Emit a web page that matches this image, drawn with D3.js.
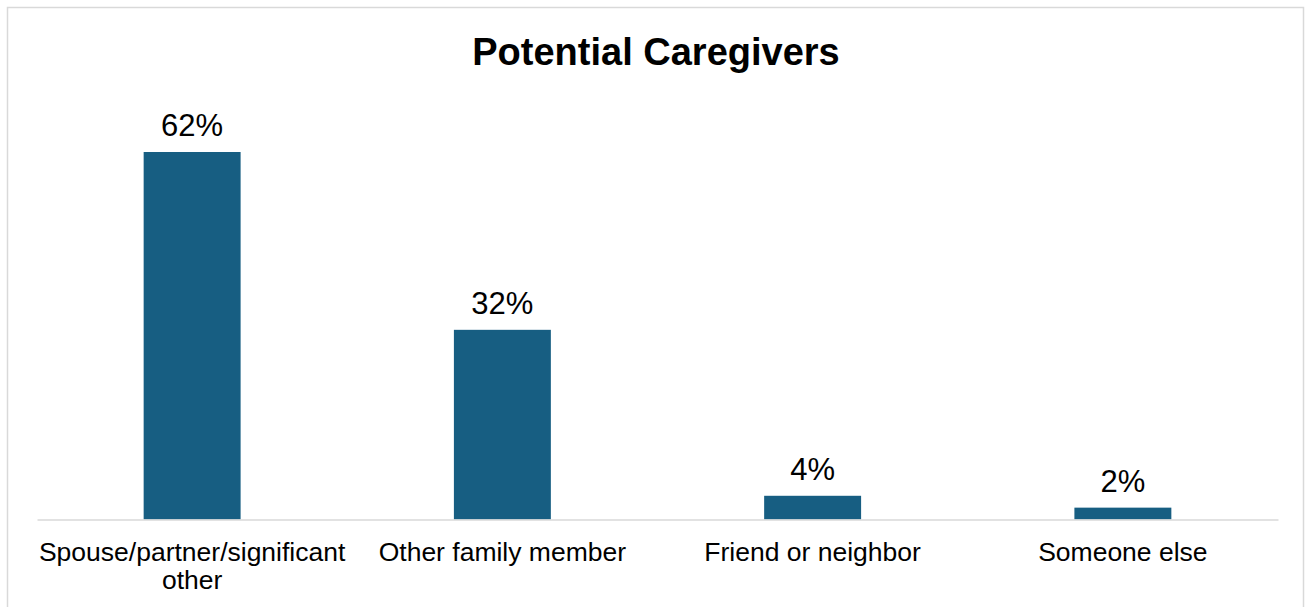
<!DOCTYPE html>
<html>
<head>
<meta charset="utf-8">
<script src="https://cdn.jsdelivr.net/npm/d3@7"></script>
<style>
  html, body { margin: 0; padding: 0; background: #fff; }
  svg { display: block; font-family: "Liberation Sans", Arial, sans-serif; }
</style>
</head>
<body>
<svg id="chart" width="1308" height="607"></svg>
<script>
// Who respondents expect would care for them
const categories = ["Spouse/partner/significant other", "Other family member", "Friend or neighbor", "Someone else"];
const values = [62, 32, 4, 2];
const title = "Potential Caregivers";

const baseline = 519.5;
const svg = d3.select("#chart");

// Outer frame
svg.append("rect")
  .attr("x", 7.5).attr("y", 7.5)
  .attr("width", 1296).attr("height", 620)
  .attr("fill", "#fff").attr("stroke", "#d9d9d9").attr("stroke-width", 1.5);

svg.append("text")
  .attr("x", 656).attr("y", 65)
  .attr("text-anchor", "middle")
  .attr("font-size", 38).attr("font-weight", "bold").attr("fill", "#000")
  .text(title);

const x = d3.scaleBand()
  .domain(categories)
  .range([37, 1278])
  .paddingInner(0.6875).paddingOuter(0.34375);

const y = d3.scaleLinear()
  .domain([0, 62])
  .range([baseline, 152]);

svg.append("g").selectAll("rect")
  .data(values)
  .join("rect")
  .attr("x", (d, i) => x(categories[i]))
  .attr("y", d => y(d))
  .attr("width", x.bandwidth())
  .attr("height", d => baseline - y(d))
  .attr("fill", "#175e82");

svg.append("g").selectAll("text")
  .data(values)
  .join("text")
  .attr("x", (d, i) => x(categories[i]) + x.bandwidth() / 2)
  .attr("y", d => y(d) - 16)
  .attr("text-anchor", "middle")
  .attr("font-size", 31).attr("fill", "#000")
  .text(d => d + "%");

// Category axis
const axis = d3.axisBottom(x).tickSize(0).tickPadding(0).tickSizeOuter(0);
const gx = svg.append("g").attr("transform", `translate(0,${baseline})`).call(axis);
gx.select(".domain").attr("stroke", "#d9d9d9").attr("stroke-width", 1.5);
gx.selectAll(".tick text").remove();

// Wrapped category labels
const labelLines = {
  "Spouse/partner/significant other": ["Spouse/partner/significant", "other"]
};
categories.forEach(c => {
  const lines = labelLines[c] || [c];
  const t = svg.append("text")
    .attr("text-anchor", "middle")
    .attr("font-size", 26.5).attr("fill", "#000");
  lines.forEach((ln, j) => {
    t.append("tspan")
      .attr("x", x(c) + x.bandwidth() / 2)
      .attr("y", 561 + j * 28)
      .text(ln);
  });
});
</script>
</body>
</html>
